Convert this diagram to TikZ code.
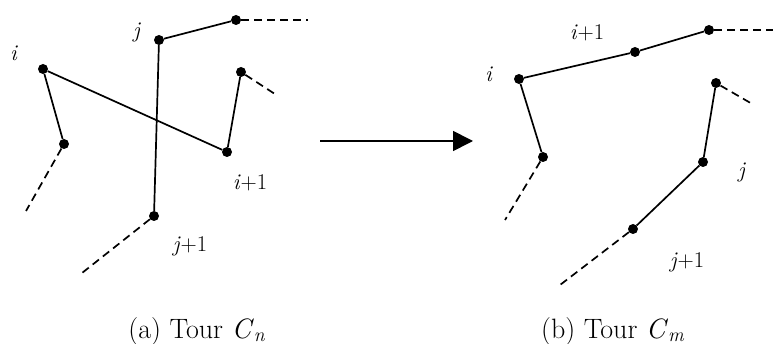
\documentclass[tikz,border=0pt]{standalone}
\usepackage{fontspec}
\usepackage{tikz}
\usetikzlibrary{
    positioning,
    arrows.meta
}

\begin{document}
\begin{tikzpicture}[
    x=1pt, y=-1pt,
    dot/.style={circle, fill=black, inner sep=0pt, minimum size=10pt},
    edge/.style={line width=1.7pt},
    dashedge/.style={line width=1.7pt, dash pattern=on 8pt off 5pt},
    lbl/.style={font=\fontsize{22.5}{26}\selectfont, inner sep=0pt},
    captxt/.style={font=\fontsize{28}{33}\selectfont, inner sep=0pt, anchor=base},
    arr/.style={line width=1.7pt, -{Triangle[length=20pt, width=20pt]}},
]
\useasboundingbox (0,0) rectangle (773,344);

% (a) tour C_n
\node[dot] (ai) at (43,69) {};
\node[dot] (aj) at (159,40) {};
\node[dot] (ajn) at (236,20) {};
\node[dot] (aip) at (64,144) {};
\node[dot] (ai1) at (227,152) {};
\node[dot] (ain) at (241,72) {};
\node[dot] (aj1) at (154,216) {};
\coordinate (ajne) at (308,20);
\coordinate (aipe) at (26,211);
\coordinate (aine) at (278,96);
\coordinate (aj1e) at (82,273);

\draw[edge] (aip) -- (ai) -- (ai1) -- (ain);
\draw[edge] (aj1) -- (aj) -- (ajn);
\draw[dashedge] (ajn) -- (ajne);
\draw[dashedge] (aip) -- (aipe);
\draw[dashedge] (ain) -- (aine);
\draw[dashedge] (aj1) -- (aj1e);

\node[lbl] (ati) at (14,53) {\textit{i}};
\node[lbl] (atj) at (137,32) {\textit{j}};
\node[lbl] (ati1) at (250,183) {\textit{i}+1};
\node[lbl] (atj1) at (190,246) {\textit{j}+1};
\node[captxt] (capa) at (197,338) {(a) Tour \textit{C}\textsubscript{\textit{n}}};

% transformation
\coordinate (arrs) at (320,141);
\coordinate (arre) at (473,141);
\draw[arr] (arrs) -- (arre);

% (b) tour C_m
\node[dot] (bi) at (519,79) {};
\node[dot] (bi1) at (635,52) {};
\node[dot] (bjn) at (709,30) {};
\node[dot] (bip) at (543,157) {};
\node[dot] (bin) at (716,83) {};
\node[dot] (bj) at (703,162) {};
\node[dot] (bj1) at (633,229) {};
\coordinate (bjne) at (773,30);
\coordinate (bipe) at (505,220);
\coordinate (bine) at (754,105);
\coordinate (bj1e) at (560,285);

\draw[edge] (bip) -- (bi) -- (bi1) -- (bjn);
\draw[edge] (bin) -- (bj) -- (bj1);
\draw[dashedge] (bjn) -- (bjne);
\draw[dashedge] (bip) -- (bipe);
\draw[dashedge] (bin) -- (bine);
\draw[dashedge] (bj1) -- (bj1e);

\node[lbl] (bti) at (489,74) {\textit{i}};
\node[lbl] (bti1) at (587,33) {\textit{i}+1};
\node[lbl] (btj) at (742,172) {\textit{j}};
\node[lbl] (btj1) at (687,262) {\textit{j}+1};
\node[captxt] (capb) at (613,338) {(b) Tour \textit{C}\textsubscript{\textit{m}}};
\end{tikzpicture}
\end{document}
